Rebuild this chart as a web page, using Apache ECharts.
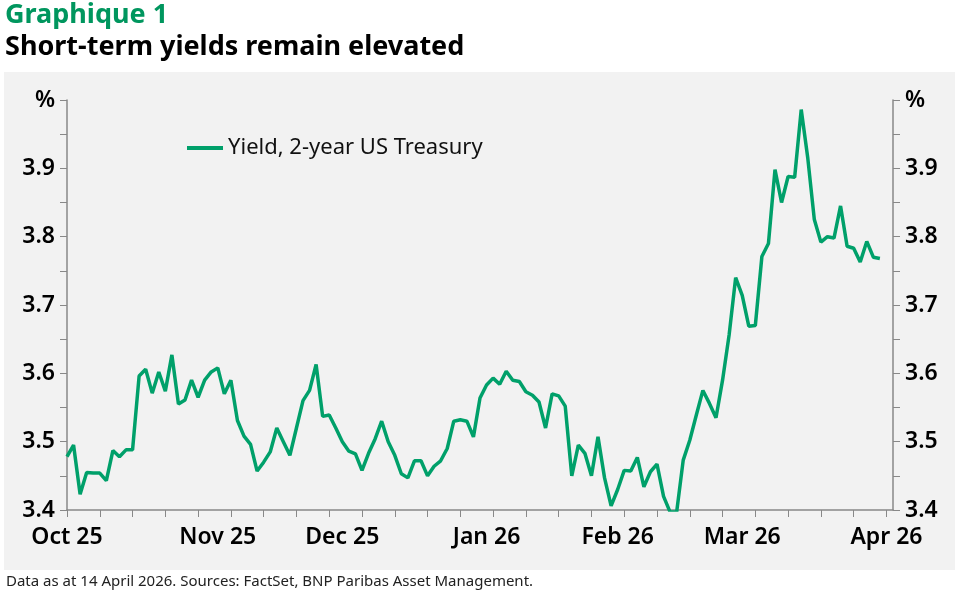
<!DOCTYPE html>
<html><head><meta charset="utf-8">
<script src="https://cdn.jsdelivr.net/npm/echarts@6/dist/echarts.min.js"></script>
<style>body{margin:0;background:#fff}#c{width:955px;height:595px}</style>
</head><body><div id="c"></div>
<script>
const titleText = 'Graphique 1';
const subtitleText = 'Short-term yields remain elevated';
const footText = 'Data as at 14 April 2026. Sources: FactSet, BNP Paribas Asset Management.';
const seriesName = 'Yield, 2-year US Treasury';
const holidays = ['2025-11-27','2025-12-25','2026-01-01','2026-01-19','2026-02-16'];
const yields = [3.478,3.495,3.423,3.455,3.454,3.454,3.443,3.487,3.478,3.488,3.488,3.596,3.606,3.571,3.602,3.574,3.627,3.555,3.561,3.590,3.565,3.590,3.602,3.608,3.570,3.590,3.531,3.508,3.496,3.457,3.470,3.485,3.520,3.500,3.480,3.520,3.560,3.575,3.613,3.537,3.539,3.520,3.500,3.486,3.482,3.458,3.483,3.504,3.530,3.500,3.480,3.453,3.447,3.472,3.472,3.450,3.464,3.472,3.490,3.530,3.532,3.530,3.507,3.564,3.583,3.593,3.584,3.603,3.590,3.588,3.573,3.568,3.558,3.520,3.570,3.567,3.552,3.450,3.495,3.483,3.450,3.507,3.447,3.406,3.430,3.458,3.457,3.477,3.434,3.456,3.467,3.420,3.397,3.397,3.473,3.502,3.539,3.575,3.556,3.535,3.590,3.656,3.740,3.714,3.669,3.670,3.771,3.790,3.898,3.850,3.888,3.887,3.986,3.915,3.825,3.792,3.800,3.798,3.845,3.786,3.783,3.763,3.793,3.770,3.768];
const dates = [];
let d = new Date(Date.UTC(2025,9,1));
while (dates.length < yields.length + 2) {
  const wd = d.getUTCDay(); const s = d.toISOString().slice(0,10);
  if (wd !== 0 && wd !== 6 && holidays.indexOf(s) < 0) dates.push(s);
  d = new Date(d.getTime() + 86400000);
}
const months = ['Jan','Feb','Mar','Apr','May','Jun','Jul','Aug','Sep','Oct','Nov','Dec'];
function isMonthStart(i){ return i===0 || dates[i].slice(5,7)!==dates[i-1].slice(5,7); }
const green = '#00a06a';
const font = '"Noto Sans", sans-serif';
const yAx = (pos) => ({
  type:'value', position:pos, min:3.4, max:4.0, interval:0.05,
  axisLine:{show:true, lineStyle:{color:'#888', width:1.5}},
  axisTick:{show:true, length:7, lineStyle:{color:'#888'}},
  splitLine:{show:false},
  axisLabel:{fontSize:23, color:'#000', fontWeight:600, fontFamily:font, margin:12,
    formatter: v => { const k=Math.round(v*100); if (k===400) return '%'; return k%10===0 ? (k/100).toFixed(1) : ''; }}
});
const chart = echarts.init(document.getElementById('c'));
chart.setOption({
  backgroundColor:'#fff',
  graphic:[
    {type:'rect', shape:{x:4,y:72,width:951,height:498}, style:{fill:'#f2f2f2'}, z:-10},
    {type:'text', left:5, top:2, style:{text:titleText, fontSize:27, fontWeight:'bold', fill:'#00965e', fontFamily:font}},
    {type:'text', left:5, top:34, style:{text:subtitleText, fontSize:27, fontWeight:'bold', fill:'#000', fontFamily:font}},
    {type:'text', left:6, top:574, style:{text:footText, fontSize:15, fill:'#222', fontFamily:font}}
  ],
  legend:{left:182, top:132, icon:'rect', itemWidth:36, itemHeight:4, itemGap:8,
    textStyle:{fontSize:22, color:'#111', fontFamily:font}, data:[seriesName]},
  grid:{left:67, right:62, top:100, bottom:85},
  xAxis:{type:'category', data:dates, boundaryGap:false,
    axisLine:{lineStyle:{color:'#888', width:1.5}},
    axisTick:{show:true, length:7, interval:(i)=>i%5===0, lineStyle:{color:'#888'}},
    axisLabel:{interval:(i)=>isMonthStart(i), fontSize:23, color:'#000', fontWeight:600, fontFamily:font, margin:16,
      formatter:(v)=> months[+v.slice(5,7)-1]+' '+v.slice(2,4)},
    splitLine:{show:false}},
  yAxis:[yAx('left'), yAx('right')],
  series:[{name:seriesName, type:'line', data:yields, showSymbol:false, symbol:'none',
    lineStyle:{color:green, width:3.5}, itemStyle:{color:green}}]
});
</script></body></html>
